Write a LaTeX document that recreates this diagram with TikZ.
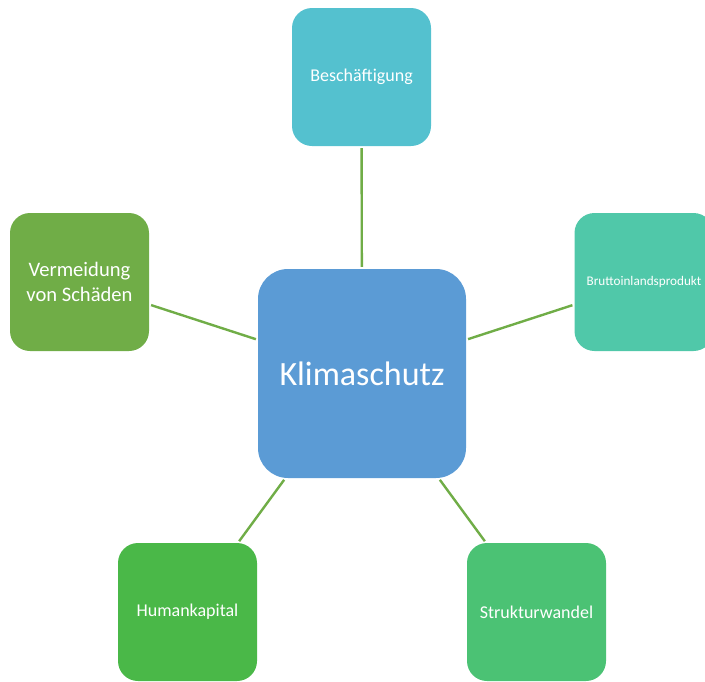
\documentclass[tikz,border=0pt]{standalone}
\usepackage{fontspec}
\setmainfont{Carlito}
\definecolor{klimafill}{HTML}{5B9BD5}
\definecolor{beschfill}{HTML}{54C1CF}
\definecolor{bipfill}{HTML}{50C8A9}
\definecolor{vermfill}{HTML}{70AD47}
\definecolor{humanfill}{HTML}{4AB848}
\definecolor{strukfill}{HTML}{4BC274}
\definecolor{linkgreen}{HTML}{70AD47}

\begin{document}
\begin{tikzpicture}[
  x=1pt, y=-1pt,
  leaf/.style={rectangle, rounded corners=20pt, inner sep=0pt, align=center,
               minimum width=139pt, minimum height=138pt, text=white,
               font=\fontsize{18}{21.6}\selectfont},
  hub/.style={rectangle, rounded corners=30pt, inner sep=0pt, align=center,
              minimum width=208pt, minimum height=209pt, fill=klimafill, text=white,
              font=\fontsize{34}{40}\selectfont},
  link/.style={draw=linkgreen, line width=2.4pt, shorten <=2pt, shorten >=2pt}
]
\useasboundingbox (0,0) rectangle (705,681);

% centre
\node[hub] (klima) at (362,373.5) {Klimaschutz};

% the five outer boxes
\node[leaf, fill=beschfill] (besch) at (361.5,77) {Beschäftigung};
\node[leaf, fill=bipfill, font=\fontsize{13.2}{16}\selectfont] (bip) at (644,282) {Bruttoinlandsprodukt};
\node[leaf, fill=vermfill, font=\fontsize{20.6}{25}\selectfont] (verm) at (79.5,282) {Vermeidung\\von Schäden};
\node[leaf, fill=humanfill] (human) at (187.5,612) {Humankapital};
\node[leaf, fill=strukfill] (struk) at (536.5,612) {Strukturwandel};

\draw[link] (klima) -- (besch);
\draw[link] (klima) -- (bip);
\draw[link] (klima) -- (verm);
\draw[link] (klima) -- (human);
\draw[link] (klima) -- (struk);

\end{tikzpicture}
\end{document}
